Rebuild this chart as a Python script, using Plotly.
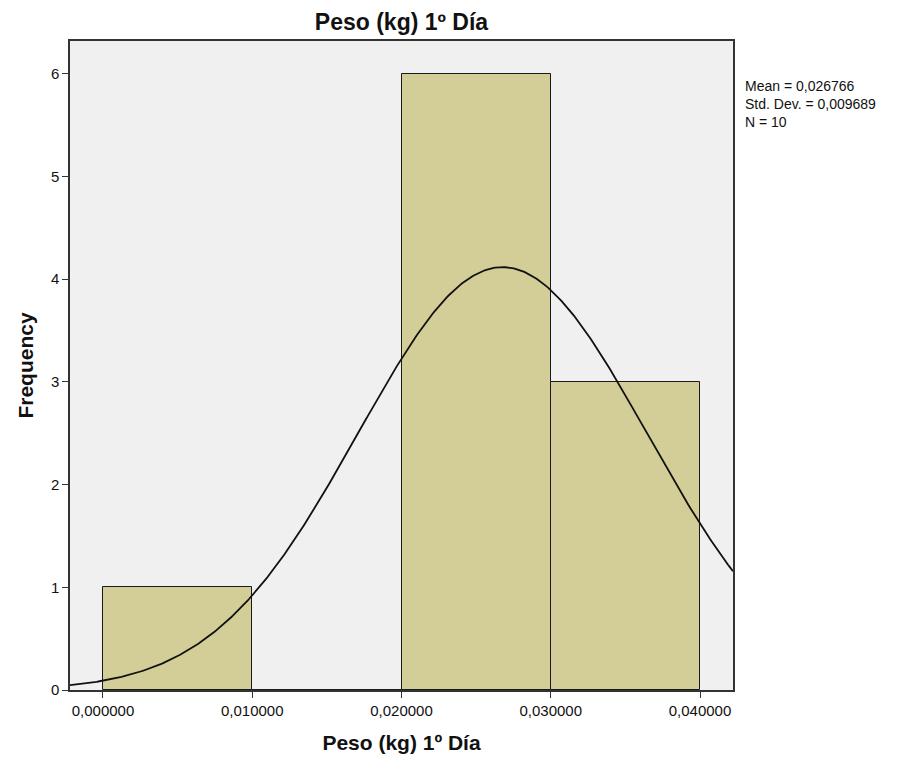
import numpy as np
import plotly.graph_objects as go

# Data
bin_left = [0.00, 0.01, 0.02, 0.03]
bin_width = 0.01
counts = [1, 0, 6, 3]
mean = 0.026766
std = 0.009689
n = 10

x_tickvals = [0.0, 0.01, 0.02, 0.03, 0.04]
x_ticktext = ["0,000000", "0,010000", "0,020000", "0,030000", "0,040000"]
y_tickvals = [0, 1, 2, 3, 4, 5, 6]
stats_lines = ["Mean = 0,026766", "Std. Dev. = 0,009689", "N = 10"]

x_range = [-0.00221, 0.04221]
y_range = [0, 6.32]

fig = go.Figure()

centers = [b + bin_width / 2 for b in bin_left]
fig.add_trace(go.Bar(
    x=centers, y=counts, width=[bin_width] * len(counts),
    marker=dict(color="#D3CE97", line=dict(color="#1a1a1a", width=1)),
    showlegend=False, hoverinfo="skip",
))

xs = np.linspace(x_range[0], x_range[1], 400)
ys = n * bin_width * np.exp(-0.5 * ((xs - mean) / std) ** 2) / (std * np.sqrt(2 * np.pi))
fig.add_trace(go.Scatter(
    x=xs, y=ys, mode="lines", line=dict(color="#111111", width=1.8),
    showlegend=False, hoverinfo="skip",
))

fig.update_layout(
    width=909, height=764,
    margin=dict(l=70, r=176, t=41, b=74),
    paper_bgcolor="white", plot_bgcolor="#F0F0F0",
    font=dict(family="Liberation Sans, Arial, sans-serif", color="#111111"),
    title=dict(text="<b>Peso (kg) 1º Día</b>", x=0.5, xanchor="center",
               xref="paper", y=1 - 22 / 764, yanchor="middle",
               font=dict(size=23, color="#111111")),
    bargap=0,
)

fig.update_xaxes(
    range=x_range, tickvals=x_tickvals, ticktext=x_ticktext,
    showgrid=False, zeroline=False, showline=True, mirror=True,
    linecolor="#333333", linewidth=1.5, ticks="outside", ticklen=6,
    tickcolor="#333333", tickfont=dict(size=15),
    title=dict(text="<b>Peso (kg) 1º Día</b>", font=dict(size=21), standoff=18),
)
fig.update_yaxes(
    range=y_range, tickvals=y_tickvals,
    showgrid=False, zeroline=False, showline=True, mirror=True,
    linecolor="#333333", linewidth=1.5, ticks="outside", ticklen=6,
    tickcolor="#333333", tickfont=dict(size=15),
    title=dict(text="<b>Frequency</b>", font=dict(size=21), standoff=12),
)

fig.add_annotation(
    xref="paper", yref="paper", x=1, y=1 - (77 - 41) / 649,
    xshift=11, xanchor="left", yanchor="top", align="left", showarrow=False,
    borderpad=0, text="<br>".join(stats_lines),
    font=dict(size=14, color="#111111"),
)

fig.write_html("out.html")
